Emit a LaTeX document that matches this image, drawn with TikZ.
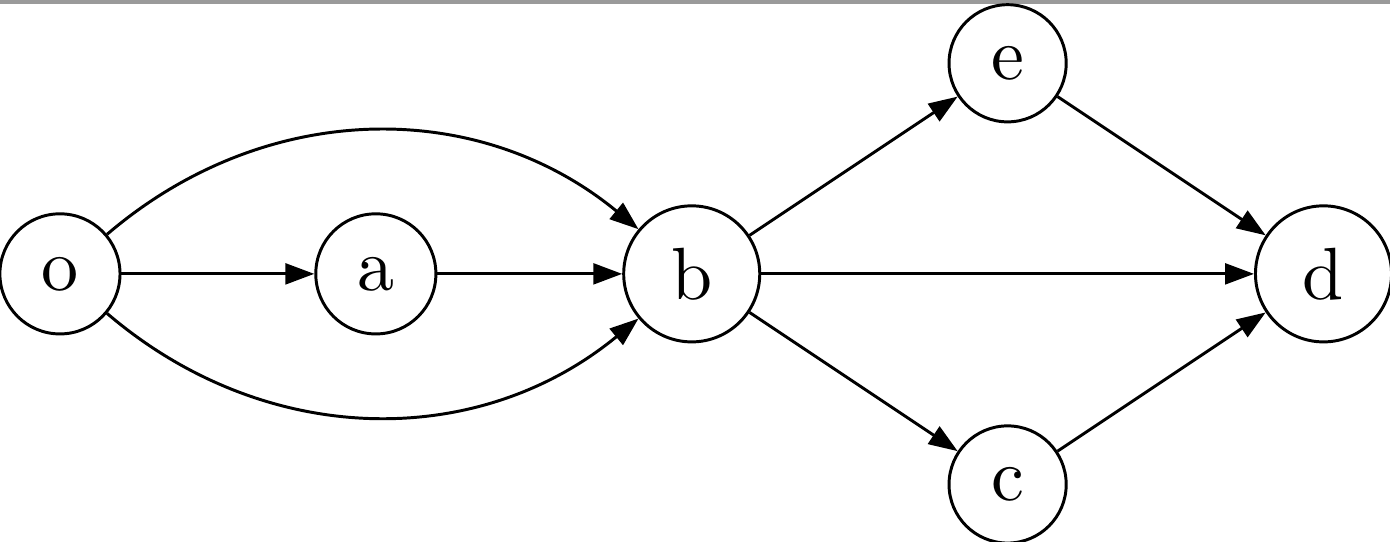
\documentclass[tikz,border=0pt]{standalone}
\usetikzlibrary{arrows.meta}
\definecolor{topbar}{HTML}{9A9A9A}
\begin{document}
\begin{tikzpicture}[
  vtx/.style={circle, draw, line width=0.4pt},
  edge/.style={-{Triangle[length=3.9pt,width=2.8pt]}, line width=0.4pt}
]
\useasboundingbox (-8.1pt,-36.2pt) rectangle (179.7pt,37.0pt);
\fill[topbar] (-8.1pt,36.45pt) rectangle (179.7pt,37.0pt);
\node[vtx] (o) at (0,0) {o};
\node[vtx] (a) at (1.5cm,0) {a};
\node[vtx] (b) at (3cm,0) {b};
\node[vtx] (e) at (4.5cm,1cm) {e};
\node[vtx] (c) at (4.5cm,-1cm) {c};
\node[vtx] (d) at (6cm,0) {d};
\draw[edge] (o) -- (a);
\draw[edge] (a) -- (b);
\draw[edge] (o) to[bend left=40] (b);
\draw[edge] (o) to[bend right=40] (b);
\draw[edge] (b) -- (e);
\draw[edge] (b) -- (c);
\draw[edge] (b) -- (d);
\draw[edge] (e) -- (d);
\draw[edge] (c) -- (d);
\end{tikzpicture}
\end{document}
